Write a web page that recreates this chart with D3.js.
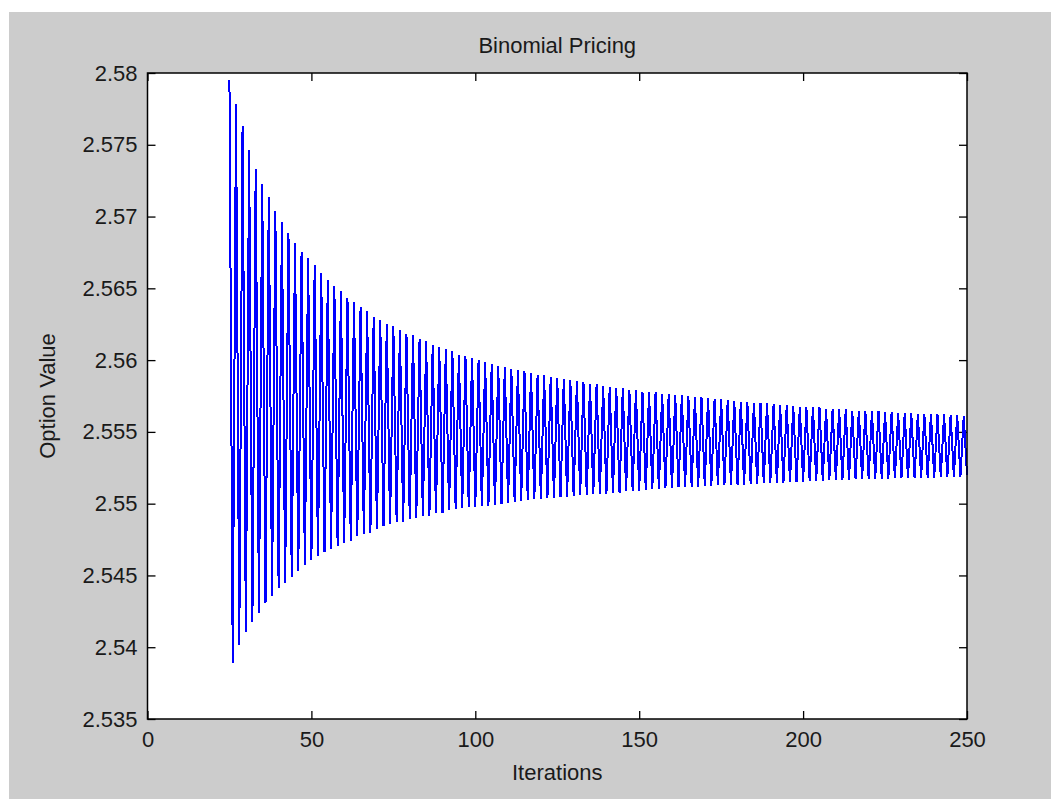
<!DOCTYPE html>
<html>
<head>
<meta charset="utf-8">
<script src="https://cdn.jsdelivr.net/npm/d3@7"></script>
<style>
  html, body { margin: 0; padding: 0; background: #ffffff; overflow: hidden; }
  svg { display: block; }
  text { font-family: "Liberation Sans", Arial, sans-serif; fill: #1a1a1a; }
</style>
</head>
<body>
<script>
// Binomial option price for each number of tree steps (iterations 25..250)
const firstIteration = 25;
const lastIteration = 250;
const optionValue = [
  2.57951, 2.53888, 2.57782, 2.54015, 2.57633, 2.54108, 2.57464, 2.54174, 2.57333, 2.54240,
  2.57227, 2.54306, 2.57134, 2.54357, 2.57041, 2.54410, 2.56962, 2.54449, 2.56883, 2.54489,
  2.56818, 2.54529, 2.56753, 2.54571, 2.56713, 2.54608, 2.56660, 2.54635, 2.56609, 2.54661,
  2.56556, 2.54686, 2.56518, 2.54702, 2.56478, 2.54728, 2.56435, 2.54742, 2.56407, 2.54775,
  2.56368, 2.54787, 2.56344, 2.54798, 2.56302, 2.54821, 2.56277, 2.54844, 2.56252, 2.54858,
  2.56238, 2.54872, 2.56210, 2.54874, 2.56184, 2.54895, 2.56173, 2.54897, 2.56145, 2.54914,
  2.56135, 2.54916, 2.56105, 2.54933, 2.56093, 2.54935, 2.56079, 2.54956, 2.56066, 2.54961,
  2.56038, 2.54968, 2.56029, 2.54975, 2.56013, 2.54979, 2.56001, 2.54984, 2.55989, 2.54986,
  2.55973, 2.54991, 2.55959, 2.54998, 2.55950, 2.55007, 2.55938, 2.55014, 2.55934, 2.55021,
  2.55922, 2.55026, 2.55912, 2.55030, 2.55896, 2.55035, 2.55894, 2.55037, 2.55882, 2.55039,
  2.55873, 2.55044, 2.55870, 2.55046, 2.55861, 2.55051, 2.55857, 2.55060, 2.55845, 2.55061,
  2.55831, 2.55067, 2.55830, 2.55068, 2.55820, 2.55069, 2.55815, 2.55076, 2.55806, 2.55077,
  2.55804, 2.55086, 2.55792, 2.55087, 2.55790, 2.55088, 2.55778, 2.55095, 2.55777, 2.55100,
  2.55776, 2.55101, 2.55766, 2.55107, 2.55762, 2.55108, 2.55755, 2.55114, 2.55754, 2.55115,
  2.55750, 2.55118, 2.55741, 2.55119, 2.55740, 2.55123, 2.55739, 2.55124, 2.55729, 2.55128,
  2.55727, 2.55129, 2.55722, 2.55130, 2.55715, 2.55132, 2.55710, 2.55133, 2.55709, 2.55137,
  2.55703, 2.55138, 2.55702, 2.55142, 2.55699, 2.55143, 2.55694, 2.55144, 2.55687, 2.55147,
  2.55686, 2.55148, 2.55682, 2.55151, 2.55676, 2.55152, 2.55674, 2.55156, 2.55672, 2.55160,
  2.55670, 2.55161, 2.55659, 2.55165, 2.55658, 2.55166, 2.55657, 2.55167, 2.55656, 2.55168,
  2.55648, 2.55170, 2.55647, 2.55171, 2.55646, 2.55172, 2.55645, 2.55173, 2.55644, 2.55174,
  2.55636, 2.55175, 2.55635, 2.55176, 2.55634, 2.55177, 2.55633, 2.55178, 2.55632, 2.55179,
  2.55625, 2.55180, 2.55624, 2.55181, 2.55623, 2.55182, 2.55622, 2.55183, 2.55621, 2.55184,
  2.55620, 2.55185, 2.55618, 2.55189, 2.55611, 2.55200
];
const iterations = d3.range(firstIteration, lastIteration + 1);

const xTicks = [0, 50, 100, 150, 200, 250];
const yTicks = [2.535, 2.54, 2.545, 2.55, 2.555, 2.56, 2.565, 2.57, 2.575, 2.58];
const xDomain = [0, 250];
const yDomain = [2.535, 2.58];

const titleText = "Binomial Pricing";
const xLabelText = "Iterations";
const yLabelText = "Option Value";

const W = 1051, H = 799;
const plot = { left: 147.5, right: 967, top: 73, bottom: 719 };

const svg = d3.select("body").append("svg")
  .attr("width", W).attr("height", H);

// figure background
svg.append("rect")
  .attr("x", 9).attr("y", 12)
  .attr("width", W - 9).attr("height", H - 12)
  .attr("fill", "#cccccc");

// axes background
svg.append("rect")
  .attr("x", plot.left).attr("y", plot.top)
  .attr("width", plot.right - plot.left).attr("height", plot.bottom - plot.top)
  .attr("fill", "#ffffff");

const x = d3.scaleLinear().domain(xDomain).range([plot.left, plot.right]);
const y = d3.scaleLinear().domain(yDomain).range([plot.bottom, plot.top]);

const fmt = d => String(+d.toFixed(3));
const tickLen = 8;

function styleAxis(g) {
  g.select(".domain").remove();
  g.selectAll(".tick line").attr("stroke", "#000").attr("stroke-width", 1.3);
  g.selectAll(".tick text")
    .attr("fill", "#1a1a1a")
    .style("font-family", '"Liberation Sans", Arial, sans-serif')
    .style("font-size", "22px");
}

// bottom axis with labels
svg.append("g")
  .attr("transform", `translate(0,${plot.bottom})`)
  .call(d3.axisBottom(x).tickValues(xTicks).tickFormat(fmt)
    .tickSizeInner(-tickLen).tickSizeOuter(0).tickPadding(12))
  .call(styleAxis);

// top axis, ticks only
svg.append("g")
  .attr("transform", `translate(0,${plot.top})`)
  .call(d3.axisTop(x).tickValues(xTicks).tickFormat("")
    .tickSizeInner(-tickLen).tickSizeOuter(0))
  .call(styleAxis);

// left axis with labels
svg.append("g")
  .attr("transform", `translate(${plot.left},0)`)
  .call(d3.axisLeft(y).tickValues(yTicks).tickFormat(fmt)
    .tickSizeInner(-tickLen).tickSizeOuter(0).tickPadding(10))
  .call(styleAxis);

// right axis, ticks only
svg.append("g")
  .attr("transform", `translate(${plot.right},0)`)
  .call(d3.axisRight(y).tickValues(yTicks).tickFormat("")
    .tickSizeInner(-tickLen).tickSizeOuter(0))
  .call(styleAxis);

// price series
const series = iterations.map((n, i) => ({ n, v: optionValue[i] }));
const line = d3.line().x(d => x(d.n)).y(d => y(d.v));

svg.append("path")
  .datum(series)
  .attr("d", line)
  .attr("fill", "none")
  .attr("stroke", "#0000ff")
  .attr("stroke-width", 2)
  .attr("shape-rendering", "crispEdges");

// axes box
svg.append("rect")
  .attr("x", plot.left).attr("y", plot.top)
  .attr("width", plot.right - plot.left).attr("height", plot.bottom - plot.top)
  .attr("fill", "none")
  .attr("stroke", "#000")
  .attr("stroke-width", 1.5);

// title and axis labels
svg.append("text")
  .attr("x", (plot.left + plot.right) / 2).attr("y", 53)
  .attr("text-anchor", "middle")
  .style("font-size", "22px")
  .text(titleText);

svg.append("text")
  .attr("x", (plot.left + plot.right) / 2).attr("y", 780)
  .attr("text-anchor", "middle")
  .style("font-size", "22px")
  .text(xLabelText);

svg.append("text")
  .attr("transform", `translate(55,${(plot.top + plot.bottom) / 2}) rotate(-90)`)
  .attr("text-anchor", "middle")
  .style("font-size", "22px")
  .text(yLabelText);
</script>
</body>
</html>
